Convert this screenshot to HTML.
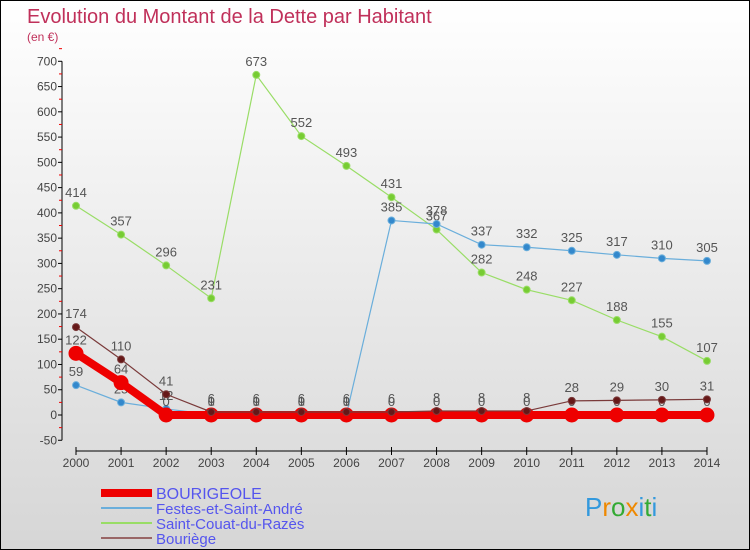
<!DOCTYPE html>
<html><head><meta charset="utf-8"><style>
body{margin:0}
#c{width:748px;height:548px;border:1px solid #000;background:linear-gradient(#ffffff,#d6d6d6);position:relative;font-family:"Liberation Sans",sans-serif}
</style></head><body>
<div id="c">
<svg id="s" width="748" height="548" style="position:absolute;left:0;top:0">
<text x="26" y="22" font-size="20" fill="#c0305a" font-family="Liberation Sans,sans-serif">Evolution du Montant de la Dette par Habitant</text>
<text x="26" y="40" font-size="12" fill="#c0305a">(en €)</text>
<g id="axes"></g><g id="series"></g><g id="legend"></g>
<text x="584" y="515" font-size="26" fill="#3399dd">P<tspan fill="#ee8800">r</tspan><tspan fill="#33aa33">o</tspan><tspan fill="#ee8800">x</tspan><tspan fill="#3399dd">i</tspan><tspan fill="#33aa33">t</tspan><tspan fill="#3399dd">i</tspan></text>
</svg>
</div>
<script>
const years=[2000,2001,2002,2003,2004,2005,2006,2007,2008,2009,2010,2011,2012,2013,2014];
const yTicks=[-50,0,50,100,150,200,250,300,350,400,450,500,550,600,650,700];
const bourigeole=[122,64,0,0,0,0,0,0,0,0,0,0,0,0,0];
const festes=[59,25,12,1,1,1,1,385,378,337,332,325,317,310,305];
const saintCouat=[414,357,296,231,673,552,493,431,367,282,248,227,188,155,107];
const bouriege=[174,110,41,6,6,6,6,6,8,8,8,28,29,30,31];
const NS="http://www.w3.org/2000/svg";
const X=i=>75+i*45.07, Y=v=>414-v*0.5053;
function mk(tag,attrs,parent){const e=document.createElementNS(NS,tag);for(const k in attrs)e.setAttribute(k,attrs[k]);parent.appendChild(e);return e;}
const axes=document.getElementById('axes');
let l=mk('line',{x1:61,y1:Y(700),x2:61,y2:Y(-50),stroke:'#000'},axes);


l=mk('line',{x1:X(0),y1:450,x2:X(14),y2:450,stroke:'#000'},axes);


yTicks.forEach(v=>{
 mk('line',{x1:57,y1:Y(v),x2:61,y2:Y(v),stroke:'#000'},axes);
 mk('line',{x1:58,y1:Y(v+25),x2:61,y2:Y(v+25),stroke:'#e00'},axes);
 const t=mk('text',{x:56,y:Y(v)+4,'font-size':12,fill:'#444','text-anchor':'end'},axes);t.textContent=v;
 
 
});
years.forEach((y,i)=>{
 mk('line',{x1:X(i),y1:446,x2:X(i),y2:454,stroke:'#000'},axes);
 const t=mk('text',{x:X(i),y:466,'font-size':12,fill:'#444','text-anchor':'middle'},axes);t.textContent=y;
 
 
});
const sg=document.getElementById('series');
function draw(data,color,dot,w,r,name,labels){
 const g=mk('g',{},sg);
 
 
 mk('polyline',{points:data.map((v,i)=>X(i)+','+Y(v)).join(' '),fill:'none',stroke:color,'stroke-width':w},g);
 data.forEach((v,i)=>{
  const c=mk('circle',{cx:X(i),cy:Y(v),r:r,fill:dot,stroke:color,'stroke-width':1},g);
  
  
  if(labels){const t=mk('text',{x:X(i),y:Y(v)-9,'font-size':13,fill:'#555','text-anchor':'middle'},g);t.textContent=v;}
 });
}
draw(saintCouat,'#99dd66','#77cc33',1.2,3.5,'series-saint-couat',true);
draw(festes,'#6aaedb','#3388cc',1.2,3.5,'series-festes',true);
draw(bourigeole,'#ee0000','#ee0000',8,7,'series-bourigeole',true);
draw(bouriege,'#7a3a3a','#661818',1.2,3.5,'series-bouriege',true);
const lg=document.getElementById('legend');
[['BOURIGEOLE','#ee0000',8],['Festes-et-Saint-André','#6aaedb',2],['Saint-Couat-du-Razès','#99dd66',2],['Bouriège','#996666',2]].forEach((e,i)=>{
 const y=492+i*15;
 const g=mk('g',{},lg);
 
 
 mk('line',{x1:100,y1:y,x2:151,y2:y,stroke:e[1],'stroke-width':e[2]},g);
 const t=mk('text',{x:155,y:y+6,'font-size':i==0?16:15,fill:'#5555ee'},g);t.textContent=e[0];
});
</script>
</body></html>
